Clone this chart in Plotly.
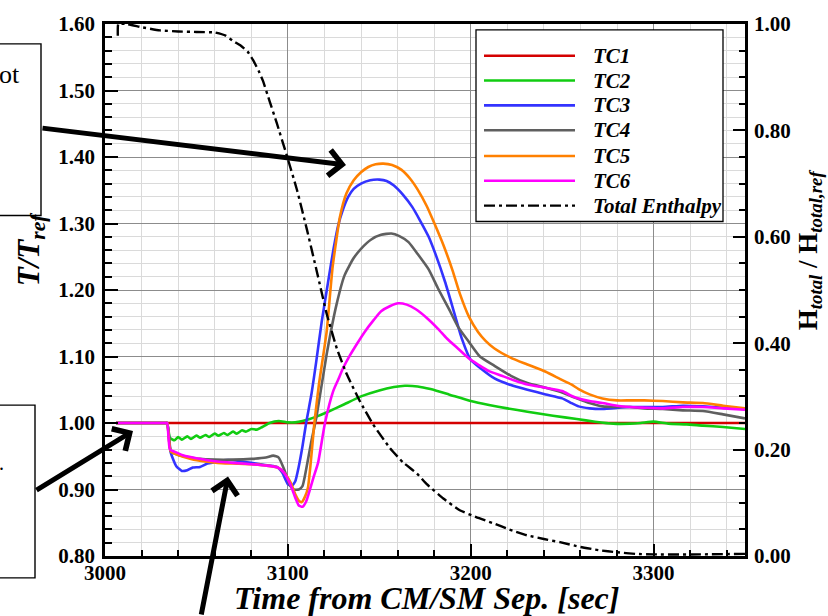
import plotly.graph_objects as go

# ---------------- data ----------------
tc1_t = [3006, 3350]
tc1_v = [1.000, 1.000]

tc2_t = [3006, 3033, 3034, 3035.5, 3038, 3040, 3042, 3045, 3047, 3050, 3052, 3055, 3057,
         3060, 3062, 3065, 3067, 3070, 3072, 3075, 3077, 3080, 3083, 3086, 3090, 3095,
         3100, 3104, 3108, 3112, 3116, 3122, 3130, 3140, 3150, 3158, 3164, 3171, 3178,
         3188, 3200, 3210, 3220, 3231, 3245, 3258, 3268, 3278, 3287, 3293, 3300, 3308,
         3318, 3327, 3338, 3350]
tc2_v = [1.000, 1.000, 1.000, 0.978, 0.974, 0.979, 0.975, 0.980, 0.976, 0.981, 0.978, 0.982, 0.979,
         0.984, 0.981, 0.985, 0.982, 0.987, 0.984, 0.989, 0.987, 0.991, 0.990, 0.994, 1.000, 1.003,
         1.001, 1.001, 1.003, 1.006, 1.010, 1.017, 1.027, 1.040, 1.049, 1.054, 1.056, 1.055, 1.051,
         1.043, 1.033, 1.027, 1.022, 1.017, 1.011, 1.006, 1.002, 0.999, 0.999, 1.000, 1.002, 0.999,
         0.998, 0.996, 0.994, 0.991]

tc3_t = [3006, 3033, 3034, 3036, 3039, 3042, 3045, 3048, 3052, 3056, 3060, 3065, 3070, 3075,
         3080, 3085, 3090, 3094, 3097, 3100, 3102, 3104, 3106, 3108, 3110, 3113, 3115.5, 3118.5,
         3122, 3125, 3127.6, 3130, 3133, 3136, 3140, 3145, 3150, 3154, 3158, 3163, 3168, 3172,
         3177, 3181, 3186, 3190, 3195, 3200, 3205, 3213, 3222, 3231, 3241, 3250, 3255, 3259,
         3265, 3272, 3287, 3305, 3316, 3327, 3338, 3350]
tc3_v = [1.000, 1.000, 1.000, 0.955, 0.935, 0.928, 0.929, 0.933, 0.934, 0.939, 0.941, 0.944, 0.944, 0.942,
         0.940, 0.938, 0.936, 0.934, 0.925, 0.908, 0.905, 0.912, 0.935, 0.965, 1.000, 1.045, 1.092, 1.152,
         1.212, 1.262, 1.298, 1.320, 1.340, 1.352, 1.360, 1.365, 1.366, 1.364, 1.357, 1.343, 1.325, 1.306,
         1.280, 1.252, 1.212, 1.175, 1.128, 1.095, 1.083, 1.067, 1.057, 1.050, 1.043, 1.037, 1.030, 1.025,
         1.022, 1.021, 1.024, 1.024, 1.026, 1.025, 1.023, 1.021]

tc4_t = [3006, 3033, 3034, 3036, 3040, 3045, 3052, 3060, 3070, 3080, 3088, 3092, 3095, 3098,
         3101, 3103, 3106, 3108, 3110, 3112.6, 3115.7, 3121.2, 3126.6, 3131, 3136, 3140, 3145.6,
         3151, 3156.6, 3161, 3166, 3171, 3177, 3182, 3188, 3193, 3199, 3205, 3213, 3222, 3231,
         3241, 3250, 3255, 3259, 3265, 3272, 3287, 3295, 3305, 3316, 3327, 3338, 3350]
tc4_v = [1.000, 1.000, 1.000, 0.957, 0.952, 0.949, 0.946, 0.945, 0.945, 0.946, 0.948, 0.951, 0.948, 0.930,
         0.907, 0.900, 0.900, 0.905, 0.930, 0.969, 1.010, 1.103, 1.178, 1.222, 1.248, 1.262, 1.276,
         1.283, 1.285, 1.281, 1.272, 1.254, 1.231, 1.203, 1.172, 1.145, 1.122, 1.100, 1.086, 1.071, 1.060,
         1.053, 1.046, 1.040, 1.036, 1.030, 1.025, 1.024, 1.022, 1.021, 1.019, 1.018, 1.013, 1.007]

tc5_t = [3006, 3033, 3034, 3036, 3040, 3047, 3055, 3061.5, 3070, 3080, 3088, 3094.5, 3098, 3101.6,
         3104, 3106, 3107.5, 3109.5, 3111, 3112.5, 3114.5, 3117, 3121.2, 3124.5, 3128.5, 3132, 3136,
         3140, 3144, 3148, 3152.2, 3157, 3162, 3167, 3171, 3176, 3180, 3185, 3190, 3194, 3199, 3204,
         3208, 3213, 3222, 3231, 3241, 3249, 3255, 3259, 3265, 3272, 3280, 3287, 3295, 3305, 3316,
         3327, 3338, 3350]
tc5_v = [1.000, 1.000, 1.000, 0.957, 0.952, 0.946, 0.942, 0.940, 0.939, 0.938, 0.936, 0.933, 0.925, 0.910,
         0.893, 0.883, 0.881, 0.890, 0.903, 0.940, 1.000, 1.058, 1.137, 1.235, 1.310, 1.345, 1.365,
         1.377, 1.385, 1.389, 1.390, 1.388, 1.381, 1.367, 1.351, 1.326, 1.301, 1.268, 1.230, 1.195, 1.160, 1.137,
         1.124, 1.112, 1.098, 1.088, 1.077, 1.066, 1.058, 1.051, 1.043, 1.037, 1.034, 1.034, 1.034, 1.033, 1.031,
         1.030, 1.026, 1.022]

tc6_t = [3006, 3033, 3034, 3035.5, 3038, 3043, 3050, 3061.5, 3070, 3080, 3088, 3094.5, 3098, 3101.6,
         3104, 3106, 3108, 3110, 3114, 3116.5, 3120.3, 3124.8, 3127.5, 3130.3, 3134, 3138, 3142, 3147,
         3151, 3156, 3160.4, 3165, 3170, 3176, 3182, 3187, 3193, 3199, 3204, 3210, 3217, 3224, 3231,
         3241, 3250, 3255, 3259, 3265, 3272, 3280, 3287, 3295, 3305, 3316, 3327, 3338, 3350]
tc6_v = [1.000, 1.000, 1.000, 0.960, 0.957, 0.951, 0.947, 0.942, 0.940, 0.938, 0.936, 0.933, 0.925, 0.906,
         0.888, 0.876, 0.874, 0.882, 0.918, 0.940, 1.000, 1.048, 1.065, 1.083, 1.102, 1.120, 1.137, 1.155,
         1.168, 1.176, 1.180, 1.178, 1.171, 1.158, 1.142, 1.127, 1.112, 1.097, 1.088, 1.078, 1.071, 1.064, 1.058,
         1.053, 1.048, 1.041, 1.037, 1.033, 1.030, 1.026, 1.024, 1.023, 1.022, 1.024, 1.024, 1.022, 1.020]

enth_t = [3007, 3007.3, 3012, 3020, 3030, 3040, 3050, 3060, 3066, 3070, 3074, 3078, 3081, 3084,
          3086.4, 3090, 3094, 3099.5, 3105, 3110.4, 3115.9, 3121.4, 3126.8, 3132.3, 3139.4, 3146.5,
          3155.8, 3163, 3170.6, 3176, 3185, 3194, 3203, 3212, 3221, 3230.7, 3240, 3248.8, 3260, 3270,
          3280, 3290, 3300, 3325, 3350]
enth_v = [0.978, 1.000, 1.000, 0.994, 0.988, 0.986, 0.985, 0.984, 0.978, 0.968, 0.960, 0.948, 0.932, 0.912,
          0.893, 0.855, 0.813, 0.752, 0.688, 0.614, 0.534, 0.453, 0.390, 0.341, 0.291, 0.248,
          0.203, 0.176, 0.155, 0.135, 0.108, 0.086, 0.073, 0.062, 0.050, 0.039, 0.032, 0.026, 0.017, 0.011,
          0.007, 0.004, 0.003, 0.003, 0.004]

names = ["TC1", "TC2", "TC3", "TC4", "TC5", "TC6", "Total Enthalpy"]
colors = ["#d40000", "#11cc11", "#3333ff", "#5f5f5f", "#ff8000", "#ff00ff", "#000000"]

x_ticks = [3000, 3100, 3200, 3300]
y_left_range = [0.80, 1.60]
y_right_range = [0.00, 1.00]
x_range = [3000, 3350]

# ---------------- layout helpers ----------------
W, H = 828, 616
L, R, T, B = 105, 745, 20, 556   # plot-area pixel edges


def pxx(px):
    return (px - L) / (R - L)


def pxy(py):
    return (B - py) / (B - T)


SERIF = "Liberation Serif"
DASHDOT = "11px,4px,3px,4px"

fig = go.Figure()
series = [(tc1_t, tc1_v), (tc2_t, tc2_v), (tc3_t, tc3_v), (tc4_t, tc4_v), (tc5_t, tc5_v), (tc6_t, tc6_v)]
for (t, v), name, col in zip(series, names, colors):
    fig.add_trace(go.Scatter(x=t, y=v, name=name, mode="lines", showlegend=False,
                             line=dict(color=col, width=2.6, shape="spline", smoothing=0.5)))
fig.add_trace(go.Scatter(x=enth_t, y=enth_v, name=names[6], mode="lines", yaxis="y2", showlegend=False,
                         line=dict(color=colors[6], width=2.4, dash=DASHDOT, shape="spline", smoothing=0.4)))

tickfont = dict(family=SERIF, size=21, color="black", weight="bold")
axis_common = dict(showline=True, linecolor="black", linewidth=2.6, ticks="inside",
                   tickcolor="black", tickwidth=2.4, zeroline=False, tickfont=tickfont)

fig.update_layout(
    width=W, height=H,
    margin=dict(l=L, r=W - R, t=T, b=H - B, pad=0),
    paper_bgcolor="white", plot_bgcolor="white",
    showlegend=False,
    xaxis=dict(range=x_range, tickvals=x_ticks, ticklen=12, showgrid=True,
               gridcolor="#8c8c8c", gridwidth=1.2, mirror=True, ticklabelstandoff=-4,
               minor=dict(dtick=20, tick0=3000, ticks="inside", ticklen=6, tickwidth=1.5,
                          tickcolor="black", showgrid=True, gridcolor="#dadada", gridwidth=1.2),
               **axis_common),
    yaxis=dict(range=y_left_range, dtick=0.1, tick0=0.8, tickformat=".2f", ticklen=13, showgrid=True,
               gridcolor="#8c8c8c", gridwidth=1.2, ticklabelstandoff=3,
               minor=dict(dtick=0.02, tick0=0.8, ticks="inside", ticklen=7, tickwidth=1.5,
                          tickcolor="black", showgrid=True, gridcolor="#dadada", gridwidth=1.2),
               **axis_common),
    yaxis2=dict(range=y_right_range, dtick=0.2, tick0=0, tickformat=".2f", ticklen=12, overlaying="y",
                side="right", showgrid=False, ticklabelstandoff=2,
                minor=dict(dtick=0.05, ticks="inside", ticklen=6, tickwidth=1.5, tickcolor="black",
                           showgrid=False),
                **axis_common),
)

shapes = []
annotations = []

# ---------------- legend box (drawn by hand to get long line samples) ----------------
shapes.append(dict(type="rect", xref="paper", yref="paper", x0=pxx(476), x1=pxx(723),
                   y0=pxy(219), y1=pxy(26), line=dict(color="black", width=1.3), fillcolor="white",
                   layer="above"))
row_y = [52, 77, 102, 127, 153, 178, 203]
for i, (name, col) in enumerate(zip(names, colors)):
    shapes.append(dict(type="line", xref="paper", yref="paper", x0=pxx(484), x1=pxx(575),
                       y0=pxy(row_y[i]), y1=pxy(row_y[i]),
                       line=dict(color=col, width=2.6 if i < 6 else 2.4,
                                 dash="solid" if i < 6 else DASHDOT)))
    annotations.append(dict(xref="paper", yref="paper", x=pxx(591), y=pxy(row_y[i]), xanchor="left",
                            yanchor="middle", showarrow=False, text=name,
                            font=dict(family=SERIF, size=21, color="black", weight="bold", style="italic")))

# ---------------- call-out boxes on the left (cut off in the original) ----------------
for (x0, x1, y0, y1) in [(-3, 41, 213, 40), (-3, 35, 578, 404)]:
    shapes.append(dict(type="rect", xref="paper", yref="paper", x0=pxx(x0), x1=pxx(x1),
                       y0=pxy(y0), y1=pxy(y1), line=dict(color="black", width=1.4), fillcolor="white",
                       layer="above"))
annotations.append(dict(xref="paper", yref="paper", x=pxx(-3), y=pxy(71), xanchor="left", yanchor="middle",
                        showarrow=False, text="ot", font=dict(family=SERIF, size=26, color="black")))
annotations.append(dict(xref="paper", yref="paper", x=pxx(-3), y=pxy(462), xanchor="left", yanchor="middle",
                        showarrow=False, text=".", font=dict(family=SERIF, size=20, color="black")))

# ---------------- arrows ----------------
for (tip, tail) in [((346, 162), (41, 125)), ((133, 430), (35, 490)), ((228, 476), (201, 628))]:
    annotations.append(dict(xref="paper", yref="paper", x=pxx(tip[0]), y=pxy(tip[1]),
                            ax=tail[0] - tip[0], ay=tail[1] - tip[1], text="", showarrow=True,
                            arrowhead=4, arrowsize=1.0, arrowwidth=5, arrowcolor="black", standoff=0))

# ---------------- axis titles ----------------
annotations.append(dict(xref="paper", yref="paper", x=pxx(426), y=pxy(598), xanchor="center", yanchor="middle",
                        showarrow=False, text="Time from CM/SM Sep. [sec]",
                        font=dict(family=SERIF, size=32, color="black", weight="bold", style="italic")))
annotations.append(dict(xref="paper", yref="paper", x=pxx(31), y=pxy(247), xanchor="center", yanchor="middle",
                        showarrow=False, textangle=-90, text="T/T<sub>ref</sub>",
                        font=dict(family=SERIF, size=31, color="black", weight="bold", style="italic")))
annotations.append(dict(xref="paper", yref="paper", x=pxx(810), y=pxy(248), xanchor="center", yanchor="middle",
                        showarrow=False, textangle=-90,
                        text="H<sub><i>total</i></sub> / H<sub><i>total,ref</i></sub>",
                        font=dict(family=SERIF, size=27, color="black", weight="bold")))

fig.update_layout(shapes=shapes, annotations=annotations)
fig.write_html("out.html", config={"displayModeBar": False},
               post_script="document.body.style.margin='0';document.body.style.overflow='hidden';")
